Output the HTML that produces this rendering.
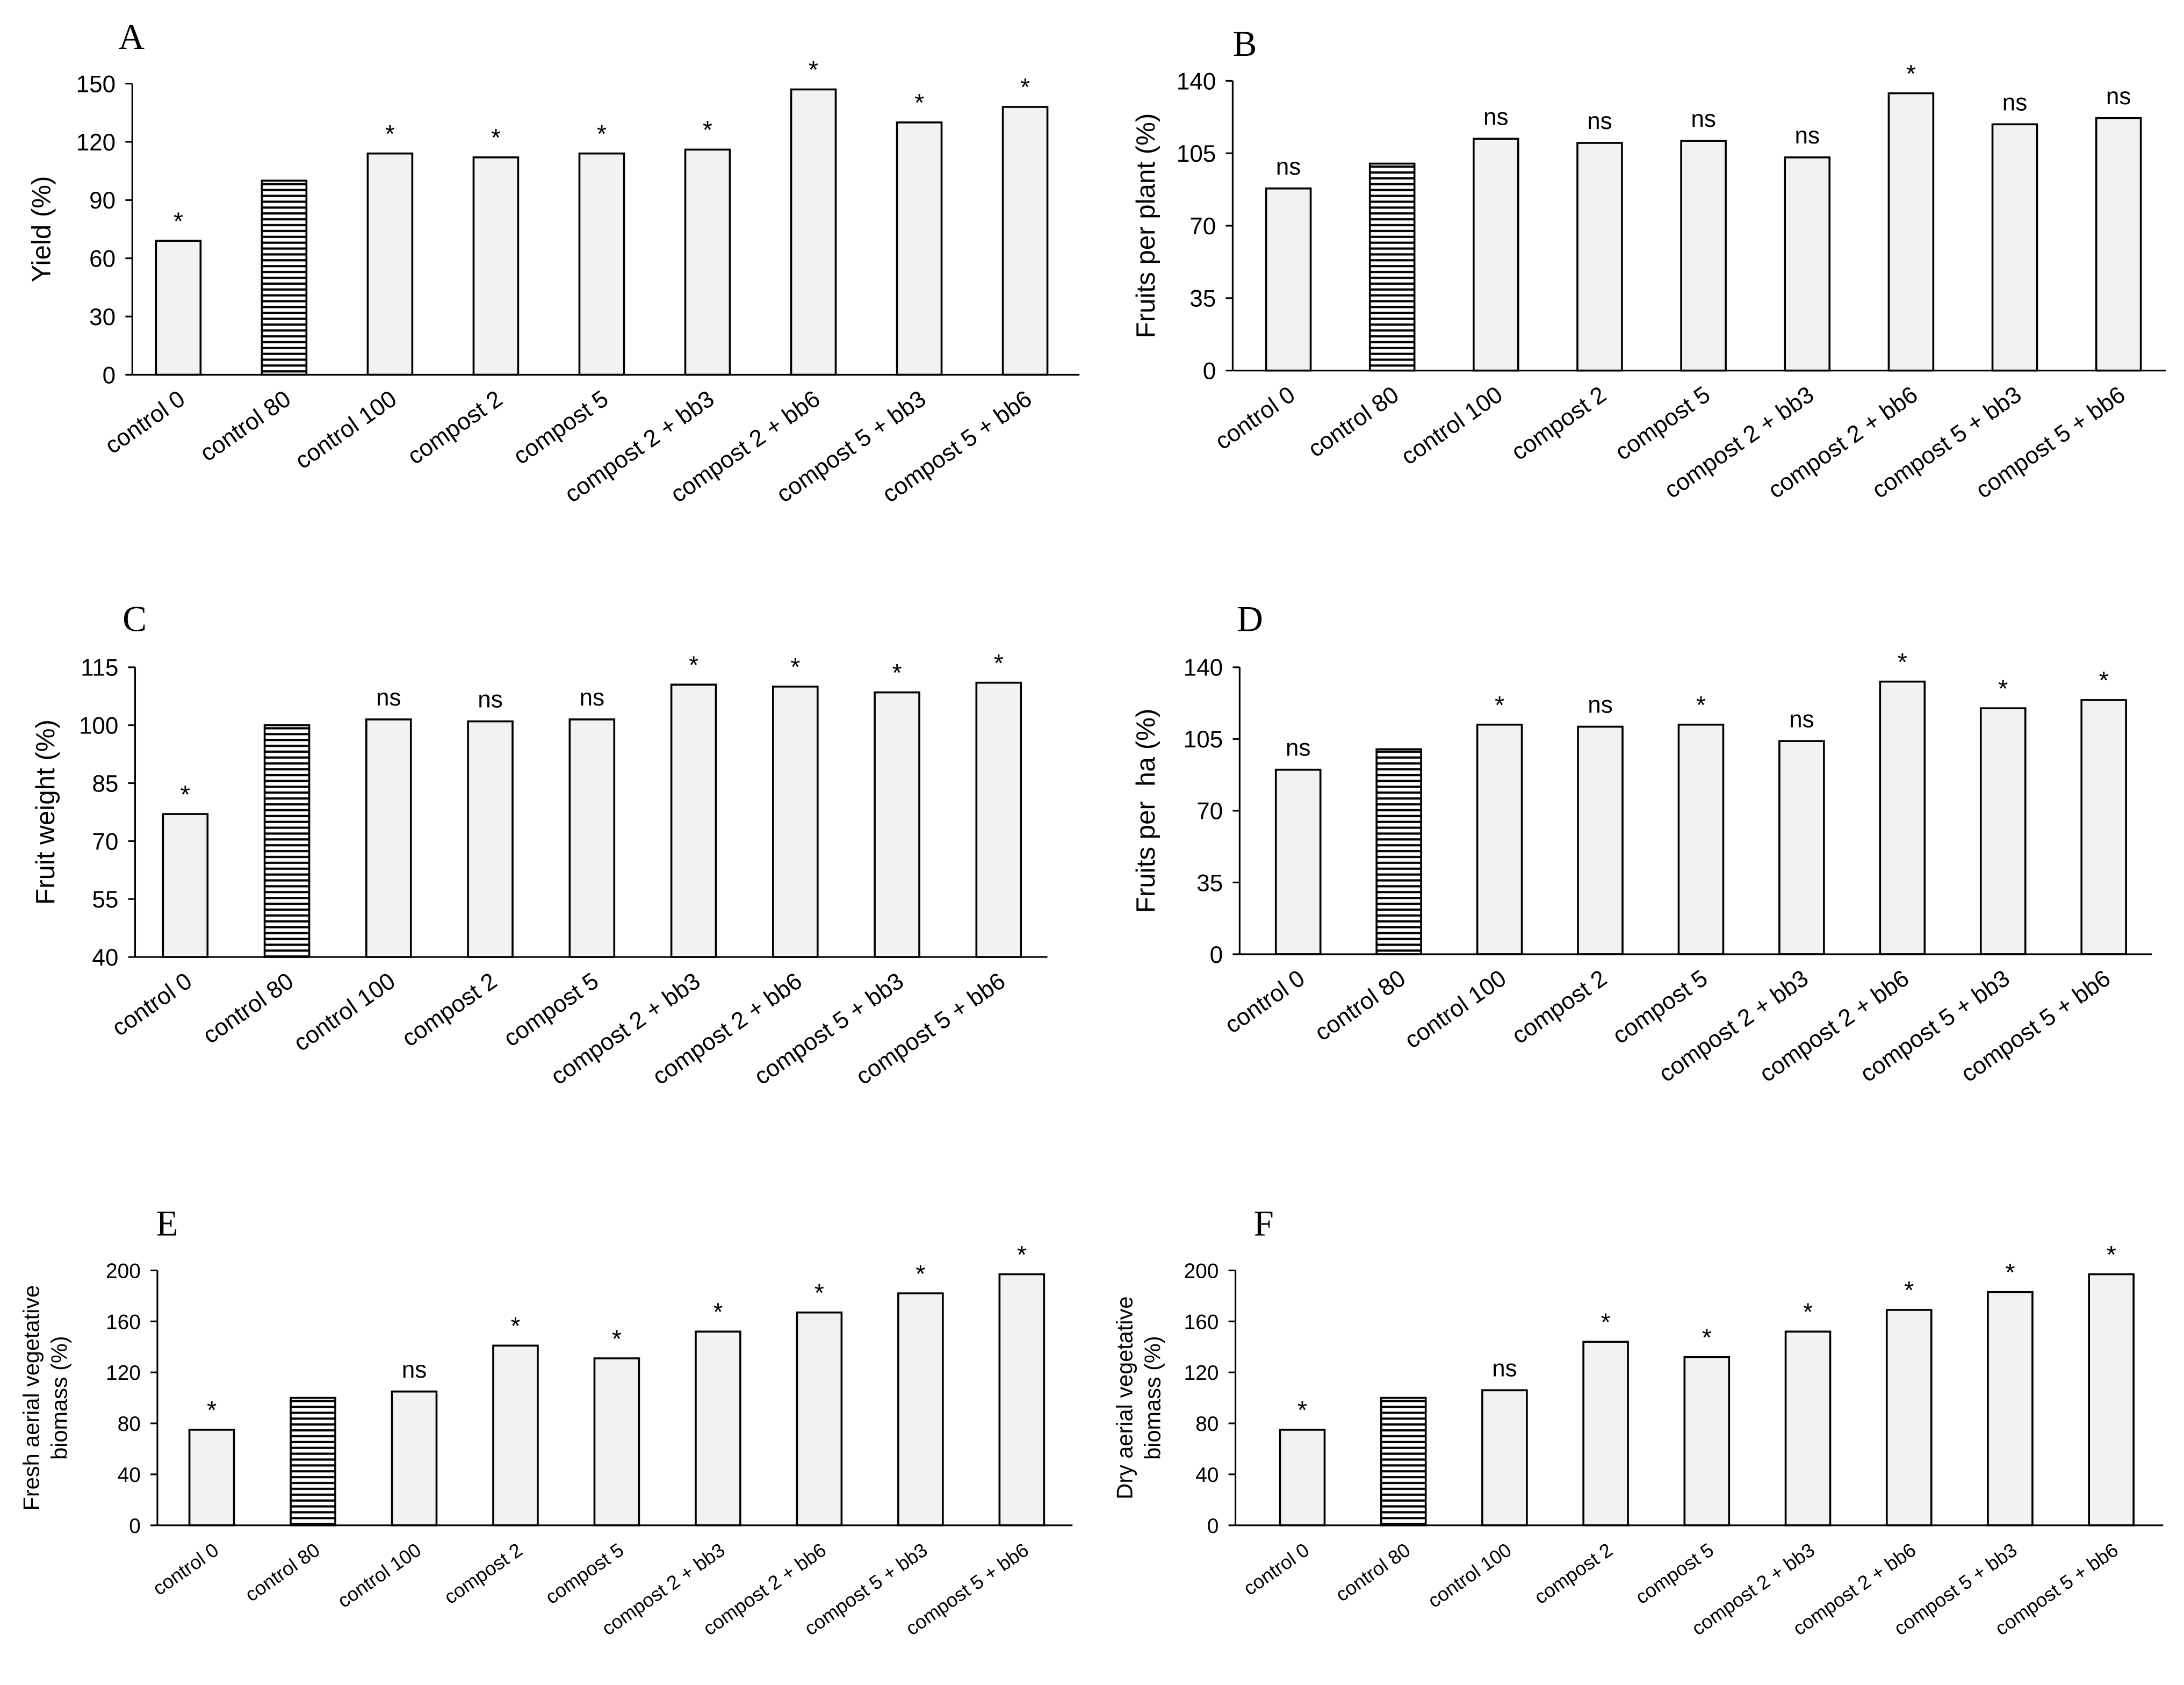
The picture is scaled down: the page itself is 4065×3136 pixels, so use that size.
<!DOCTYPE html>
<html><head><meta charset="utf-8"><style>
html,body{margin:0;padding:0;background:#fff}
svg{display:block}
text{font-family:"Liberation Sans",sans-serif;fill:#000}
.letter{font-family:"Liberation Serif",serif;font-size:26px}
</style></head><body>
<svg id="fig" width="4065" height="3136" viewBox="0 0 1568 1209.6" xmlns="http://www.w3.org/2000/svg">
<defs>
<pattern id="hatch" width="6" height="4.2" patternUnits="userSpaceOnUse">
<rect width="6" height="4.2" fill="#fff"/>
<line x1="0" y1="2" x2="6" y2="2" stroke="#000" stroke-width="1.6"/>
</pattern>
</defs>
</svg>
<script>
const categories=["control 0","control 80","control 100","compost 2","compost 5","compost 2 + bb3","compost 2 + bb6","compost 5 + bb3","compost 5 + bb6"];
const valsA=[69,100,114,112,114,116,147,130,138];
const sigA=["*","","*","*","*","*","*","*","*"];
const ticksA=[0,30,60,90,120,150];
const valsB=[88,100,112,110,111,103,134,119,122];
const sigB=["ns","","ns","ns","ns","ns","*","ns","ns"];
const ticksB=[0,35,70,105,140];
const valsC=[77,100,101.5,101,101.5,110.5,110,108.5,111];
const sigC=["*","","ns","ns","ns","*","*","*","*"];
const ticksC=[40,55,70,85,100,115];
const valsD=[90,100,112,111,112,104,133,120,124];
const sigD=["ns","","*","ns","*","ns","*","*","*"];
const ticksD=[0,35,70,105,140];
const valsE=[75,100,105,141,131,152,167,182,197];
const sigE=["*","","ns","*","*","*","*","*","*"];
const ticksE=[0,40,80,120,160,200];
const valsF=[75,100,106,144,132,152,169,183,197];
const sigF=["*","","ns","*","*","*","*","*","*"];
const ticksF=[0,40,80,120,160,200];

const svg=document.getElementById('fig');
const NS="http://www.w3.org/2000/svg";
function mk(tag,attrs,parent){const e=document.createElementNS(NS,tag);for(const k in attrs)e.setAttribute(k,attrs[k]);parent.appendChild(e);return e;}

const panels=[
 {id:"a",letter:"A",lx:85,ly:35,ax:95,top:60,bot:269,x0:128,dx:76,xEnd:775,bw:32,vals:valsA,sig:sigA,ticks:ticksA,title:["Yield (%)"],tx:30,fs:17,xfs:17},
 {id:"b",letter:"B",lx:885,ly:40,ax:885,top:58,bot:266,x0:925,dx:74.5,xEnd:1555,bw:32,vals:valsB,sig:sigB,ticks:ticksB,title:["Fruits per plant (%)"],tx:823,fs:17,xfs:17},
 {id:"c",letter:"C",lx:88,ly:453,ax:97,top:479,bot:687,x0:133,dx:73,xEnd:752,bw:32,vals:valsC,sig:sigC,ticks:ticksC,title:["Fruit weight (%)"],tx:33,fs:17,xfs:17},
 {id:"d",letter:"D",lx:888,ly:453,ax:890,top:479,bot:685,x0:932,dx:72.3,xEnd:1545,bw:32,vals:valsD,sig:sigD,ticks:ticksD,title:["Fruits per\u00a0\u00a0ha (%)"],tx:823,fs:17,xfs:17},
 {id:"e",letter:"E",lx:112,ly:887,ax:113,top:912,bot:1095,x0:152,dx:72.7,xEnd:770,bw:32,vals:valsE,sig:sigE,ticks:ticksE,title:["Fresh aerial vegetative","biomass (%)"],tx:30,fs:15,xfs:14},
 {id:"f",letter:"F",lx:900,ly:887,ax:887,top:912,bot:1095,x0:935,dx:72.6,xEnd:1553,bw:32,vals:valsF,sig:sigF,ticks:ticksF,title:["Dry aerial vegetative","biomass (%)"],tx:815,fs:15,xfs:14}
];

panels.forEach(p=>{
 const g=mk('g',{},svg);
 
 
 const tmin=p.ticks[0],tmax=p.ticks[p.ticks.length-1];
 const y=v=>p.bot-(v-tmin)/(tmax-tmin)*(p.bot-p.top);
 const x=i=>p.x0+i*p.dx;
 const L=mk('text',{x:p.lx,y:p.ly,class:'letter'},g);L.textContent=p.letter;
 
 
 const ya=mk('line',{x1:p.ax,y1:p.top,x2:p.ax,y2:p.bot,stroke:'#000','stroke-width':1.2},g);
 
 
 const xa=mk('line',{x1:p.ax,y1:p.bot,x2:p.xEnd,y2:p.bot,stroke:'#000','stroke-width':1.2},g);
 
 
 p.ticks.forEach(t=>{
  mk('line',{x1:p.ax-5,y1:y(t),x2:p.ax,y2:y(t),stroke:'#000','stroke-width':1.2},g);
  const tl=mk('text',{x:p.ax-12,y:y(t)+p.fs*0.36,'text-anchor':'end','font-size':p.fs},g);
  tl.textContent=t;
  
  
 });
 const cy=(p.top+p.bot)/2;
 const tt=mk('text',{transform:`translate(${p.tx},${cy}) rotate(-90)`,'text-anchor':'middle','font-size':p.title.length>1?16:19},g);
 
 
 p.title.forEach((s,k)=>{const ts=mk('tspan',{x:0,dy:k===0?(p.title.length>1?-2:6):20},tt);ts.textContent=s;});
 p.vals.forEach((v,i)=>{
  const r=mk('rect',{x:x(i)-p.bw/2,y:y(v),width:p.bw,height:p.bot-y(v),fill:i===1?'url(#hatch)':'#f2f2f2',stroke:'#000','stroke-width':1.4},g);
  
  
  if(p.sig[i]){
   const s=mk('text',{x:x(i),y:p.sig[i]==='*'?y(v)-8:y(v)-10,'text-anchor':'middle','font-size':p.sig[i]==='*'?18:17},g);
   s.textContent=p.sig[i];
   
   
  }
  const xl=mk('text',{transform:`translate(${x(i)+6},${p.bot+20}) rotate(-35)`,'text-anchor':'end','font-size':p.xfs},g);
  xl.textContent=categories[i];
  
  
 });
});
</script>
</body></html>
